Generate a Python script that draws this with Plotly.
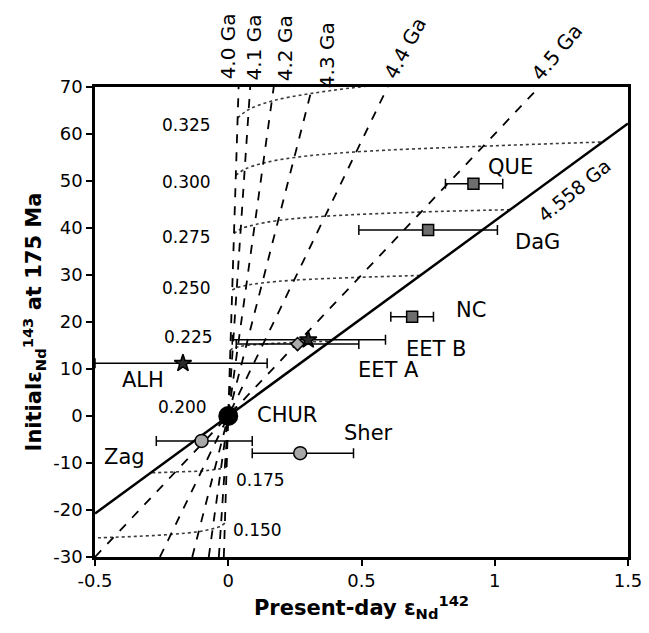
import plotly.graph_objects as go

# Isochron ages (Ga) and slopes (eps143 per eps142)
iso_ages = ["4.0", "4.1", "4.2", "4.3", "4.4", "4.5"]
iso_slopes = [1800, 850, 410, 222, 117, 60]
solid_age = "4.558"
solid_slope = 41.5

# Sm/Nd contours: initial eps143 at each isochron (4.0..4.5, 4.558)
ratio_labels = ["0.150", "0.175", "0.200", "0.225", "0.250", "0.275", "0.300", "0.325"]
ratio_eps = [
    [-22.8, -23.4, -24.0, -24.6, -25.2, -25.8, -26.1],
    [-10.8, -11.0, -11.2, -11.4, -11.7, -11.9, -12.1],
    [1.7, 1.7, 1.8, 1.8, 1.8, 1.9, 1.9],
    [14.0, 14.4, 14.7, 15.0, 15.3, 15.7, 15.9],
    [26.8, 27.3, 27.8, 28.3, 28.9, 29.5, 29.9],
    [38.8, 39.8, 40.7, 41.6, 42.5, 43.4, 43.9],
    [51.2, 52.5, 53.8, 55.0, 56.2, 57.4, 58.3],
    [63.4, 65.2, 67.0, 68.6, 70.6, 72.0, 72.9],
]
ratio_lab_x = [0.11, 0.12, -0.17, -0.15, -0.155, -0.155, -0.155, -0.155]
ratio_lab_y = [-24.3, -13.6, 1.9, 16.8, 27.2, 38.1, 49.8, 61.9]

# Samples
samples = ["QUE", "DaG", "NC", "EET B", "EET A", "ALH", "Zag", "Sher"]
eps142 = [0.92, 0.75, 0.69, 0.30, 0.26, -0.17, -0.10, 0.27]
eps143 = [49.4, 39.6, 21.1, 16.2, 15.3, 11.2, -5.3, -7.9]
err_lo = [0.815, 0.49, 0.61, 0.015, 0.03, -0.50, -0.27, 0.09]
err_hi = [1.03, 1.01, 0.77, 0.59, 0.49, 0.146, 0.09, 0.47]
lab_x = [1.06, 1.16, 0.91, 0.78, 0.60, -0.32, -0.39, 0.525]
lab_y = [53.0, 37.0, 22.5, 14.3, 9.8, 7.7, -8.7, -3.6]
symbols = ["square", "square", "square", "star", "diamond", "star", "circle", "circle"]
fills = ["#6e6e6e", "#6e6e6e", "#6e6e6e", "#2a2a2a", "#aaaaaa", "#2a2a2a", "#a8a8a8", "#a8a8a8"]
sizes = [11, 11, 11, 13, 10, 13, 13, 13]

chur_label = "CHUR"
chur_x = [0.0]
chur_y = [0.0]
chur_lab_x = 0.22
chur_lab_y = 0.2

# Axis ticks
x_ticks = [-0.5, 0, 0.5, 1, 1.5]
x_ticktext = ["-0.5", "0", "0.5", "1", "1.5"]
y_ticks = [-30, -20, -10, 0, 10, 20, 30, 40, 50, 60, 70]
y_ticktext = ["-30", "-20", "-10", "0", "10", "20", "30", "40", "50", "60", "70"]

# Ga label placement
ga_lab_x = [0.0, 0.098, 0.214, 0.371, 0.664, 1.234]
ga_lab_y = [1.087, 1.085, 1.083, 1.068, 1.083, 1.074]
ga_lab_ang = [-90, -90, -90, -90, -62, -50]

y_min, y_max = -30, 70
x_min, x_max = -0.5, 1.5

FONT = "DejaVu Sans, Arial, sans-serif"
fig = go.Figure()

# Sm/Nd contours (dotted)
all_slopes = iso_slopes + [solid_slope]
for vals in ratio_eps:
    xs = [v / s for v, s in zip(vals, all_slopes)]
    fig.add_trace(go.Scatter(x=xs, y=vals, mode="lines",
                             line=dict(color="#3a3a3a", width=1.6, dash="dot", shape="spline"),
                             hoverinfo="skip", showlegend=False))

# Dashed isochrons
for s in iso_slopes:
    fig.add_trace(go.Scatter(x=[y_min / s, y_max / s], y=[y_min, y_max], mode="lines",
                             line=dict(color="black", width=1.8, dash="dash"),
                             hoverinfo="skip", showlegend=False))

# Solid 4.558 Ga isochron
fig.add_trace(go.Scatter(x=[x_min, x_max], y=[x_min * solid_slope, x_max * solid_slope], mode="lines",
                         line=dict(color="black", width=2.5),
                         hoverinfo="skip", showlegend=False))

# Samples with error bars
for i in range(len(samples)):
    fig.add_trace(go.Scatter(
        x=[eps142[i]], y=[eps143[i]], mode="markers",
        marker=dict(symbol=symbols[i], size=sizes[i], color=fills[i],
                    line=dict(color="black", width=1.5)),
        error_x=dict(type="data", symmetric=False,
                     array=[err_hi[i] - eps142[i]], arrayminus=[eps142[i] - err_lo[i]],
                     color="black", thickness=1.5, width=5),
        showlegend=False, name=samples[i]))

# CHUR
fig.add_trace(go.Scatter(x=chur_x, y=chur_y, mode="markers",
                         marker=dict(symbol="circle", size=20, color="black"),
                         showlegend=False, name="CHUR"))

# Sample labels
for t, lx, ly in zip(samples + [chur_label], lab_x + [chur_lab_x], lab_y + [chur_lab_y]):
    fig.add_annotation(x=lx, y=ly, xref="x", yref="y", text=t, showarrow=False,
                       font=dict(family=FONT, size=21, color="black"))

# Ratio labels
for t, lx, ly in zip(ratio_labels, ratio_lab_x, ratio_lab_y):
    fig.add_annotation(x=lx, y=ly, xref="x", yref="y", text=t, showarrow=False,
                       font=dict(family=FONT, size=17, color="black"))

# Ga labels above the plot
for lab, lx, ly, ang in zip(iso_ages, ga_lab_x, ga_lab_y, ga_lab_ang):
    fig.add_annotation(x=lx, y=ly, xref="x", yref="paper", text=lab + " Ga",
                       textangle=ang, showarrow=False,
                       font=dict(family=FONT, size=20, color="black"),
                       xanchor="center", yanchor="middle")

fig.add_annotation(x=1.30, y=48.0, xref="x", yref="y", text=solid_age + " Ga",
                   textangle=-39, showarrow=False,
                   font=dict(family=FONT, size=19, color="black"))

axis_common = dict(showline=True, linewidth=2.5, linecolor="black", mirror=True,
                   ticks="outside", ticklen=6, tickwidth=2, tickcolor="black",
                   showgrid=False, zeroline=False, automargin=False,
                   tickfont=dict(family=FONT, size=18, color="black"))

fig.update_xaxes(range=[x_min, x_max], tickvals=x_ticks, ticktext=x_ticktext,
                 title=dict(text="<b>Present-day ε<sub>Nd</sub><sup>142</sup></b>",
                            font=dict(family=FONT, size=21, color="black"), standoff=10),
                 **axis_common)
fig.update_yaxes(range=[y_min, y_max], tickvals=y_ticks, ticktext=y_ticktext,
                 title=dict(text="<b>Initialε<sub>Nd</sub><sup>143</sup> at 175 Ma</b>",
                            font=dict(family=FONT, size=21, color="black"), standoff=6),
                 **axis_common)

# page body has an 8px default margin, so the figure is sized/offset to compensate
fig.update_layout(width=641, height=625, plot_bgcolor="white", paper_bgcolor="white",
                  margin=dict(l=87, r=21, t=79, b=76), showlegend=False)

fig.write_html("out.html")
